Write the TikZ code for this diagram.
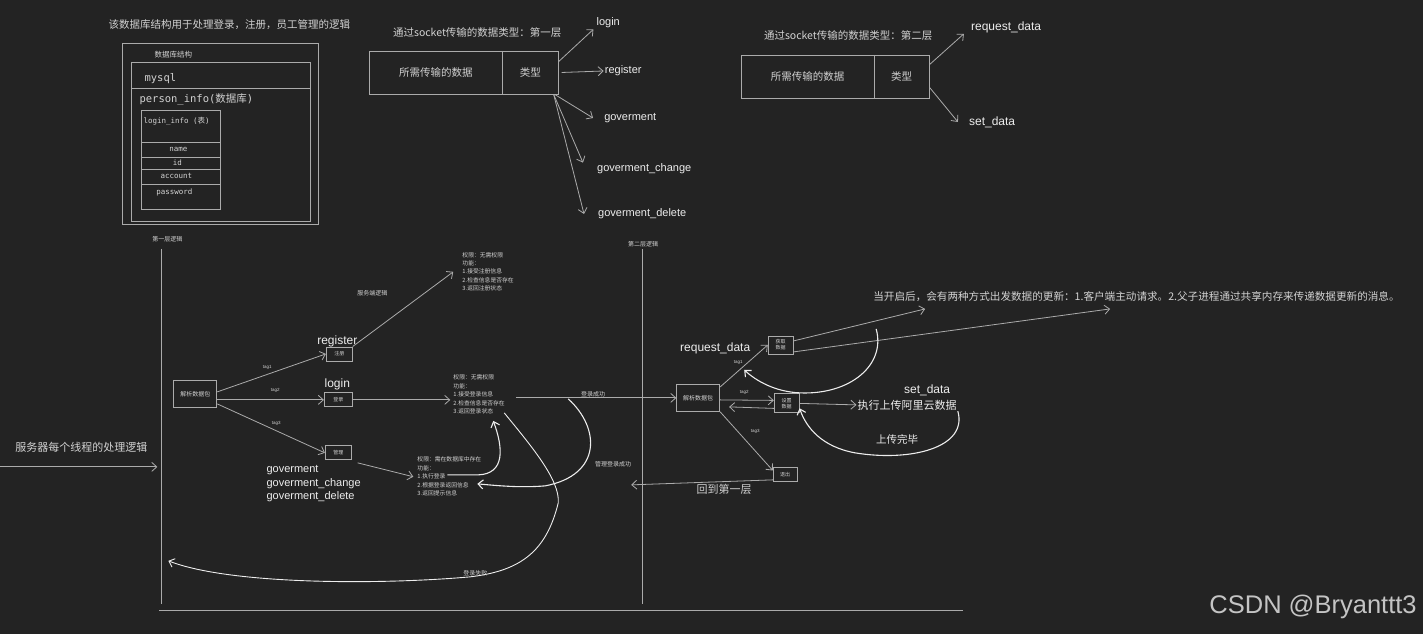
\documentclass[tikz,border=0pt]{standalone}
\usepackage{fontspec}
\setmainfont{Noto Sans CJK SC}
\newfontfamily\hand{Liberation Sans}
\newfontfamily\mono{DejaVu Sans Mono}
\usetikzlibrary{arrows.meta}
\definecolor{bg}{HTML}{232323}
\definecolor{ln}{HTML}{ABABAB}
\definecolor{txt}{HTML}{D2D2D2}
\definecolor{hw}{HTML}{EDEDED}
\definecolor{wm}{HTML}{C4C4C4}
\newcommand\fsz[2]{\fontsize{#1}{#2}\selectfont}
\begin{document}
\begin{tikzpicture}[x=1pt,y=-1pt,>={Straight Barb[length=5pt,width=9pt]},
    every node/.style={text=txt,inner sep=1pt,font={\fsz{6}{7}}},
    box/.style={draw=ln,line width=.8pt,inner sep=0pt,align=center},
    wire/.style={draw=ln,line width=.8pt},
    hand/.style={font={\hand\fsz{11}{13}},text=hw},
    tag/.style={font={\hand\fsz{4.5}{5}}},
    info/.style={anchor=north west,align=left,font={\fsz{5.8}{8.5}}},
    bold/.style={draw=hw,line width=1.1pt,->}]
    \fill[bg] (0,0) rectangle (1423,634);
    % database
    \node[font={\fsz{10.5}{12}}] (dbt) at (229,25) {该数据库结构用于处理登录，注册，员工管理的逻辑};
    \draw[wire] (122,43) rectangle (318,224);
    \node[font={\fsz{7.5}{9}}] (dbs) at (173,55) {数据库结构};
    \draw[wire] (131,62) rectangle (310,221);
    \draw[wire] (131,88) -- (310,88);
    \node[anchor=west,font={\mono\fsz{10.5}{12}}] (my) at (143,79) {mysql};
    \node[anchor=west,font={\fsz{10.5}{12}}] (pi) at (138,99) {{\mono person\_info(}数据库{\mono )}};
    \draw[wire] (141,110) rectangle (220,209);
    \foreach \y in {142,157,169,184} \draw[wire] (141,\y) -- (220,\y);
    \node[anchor=west,font={\fsz{7.5}{9}}] (li) at (142,121) {{\mono login\_info (}表{\mono )}};
    \node[font={\mono\fsz{7.5}{9}}] (nm) at (178,149) {name};
    \node[font={\mono\fsz{7.5}{9}}] (id) at (177,163) {id};
    \node[font={\mono\fsz{7.5}{9}}] (ac) at (176,176) {account};
    \node[font={\mono\fsz{7.5}{9}}] (pw) at (174,192) {password};
    % first layer types
    \node[font={\fsz{10.5}{12}}] (s1t) at (477,33) {通过socket传输的数据类型：第一层};
    \node[box,minimum width=133pt,minimum height=43pt,font={\fsz{10.5}{12}}] (s1d) at (435.5,72.5) {所需传输的数据};
    \node[box,minimum width=56pt,minimum height=43pt,font={\fsz{10.5}{12}}] (s1k) at (530,72.5) {类型};
    \node[hand] (tlogin) at (608,23) {login};
    \node[hand] (treg) at (623,71) {register};
    \node[hand] (tgov) at (630,118) {goverment};
    \node[hand] (tgc) at (644,169) {goverment\_change};
    \node[hand] (tgd) at (642,214) {goverment\_delete};
    \draw[wire,->] ([yshift=-11pt]s1k.north east) -- ([xshift=-2pt]tlogin.south west);
    \draw[wire,->] ([xshift=3pt]s1k.east) -- (treg.west);
    \draw[wire,->] ([xshift=-4pt]s1k.south east) -- ([xshift=-10pt]tgov.west);
    \draw[wire,->] ([xshift=-5pt]s1k.south east) -- ([xshift=-13pt]tgc.north west);
    \draw[wire,->] ([xshift=-5pt]s1k.south east) -- ([xshift=-13pt]tgd.west);
    % second layer types
    \node[font={\fsz{10.5}{12}}] (s2t) at (848,36) {通过socket传输的数据类型：第二层};
    \node[box,minimum width=133pt,minimum height=43pt,font={\fsz{10.5}{12}}] (s2d) at (807.5,76.5) {所需传输的数据};
    \node[box,minimum width=55pt,minimum height=43pt,font={\fsz{10.5}{12}}] (s2k) at (901.5,76.5) {类型};
    \node[hand,font={\hand\fsz{12}{14}}] (treq) at (1006,27) {request\_data};
    \node[hand,font={\hand\fsz{12}{14}}] (tset) at (992,122) {set\_data};
    \draw[wire,->] ([yshift=-10pt]s2k.north east) -- ([xshift=-6pt]treq.south west);
    \draw[wire,->] ([yshift=11pt]s2k.south east) -- ([xshift=-10pt]tset.west);
    % frame
    \node (l1) at (167,239) {第一层逻辑};
    \node (l2) at (643,244) {第二层逻辑};
    \draw[wire] (161,249) -- (161,604);
    \draw[wire] (642,249) -- (642,604);
    \draw[wire] (159,611) -- (963,611);
    \node[font={\fsz{11}{13}}] (thr) at (81,447) {服务器每个线程的处理逻辑};
    \coordinate (in0) at (0,467);
    \coordinate (in1) at (157,467);
    \draw[wire,->] (in0) -- (in1);
    % first layer logic
    \node[box,minimum width=43pt,minimum height=27pt] (pk1) at (195,394) {解析数据包};
    \node[box,minimum width=26pt,minimum height=14pt,font={\fsz{5}{6}}] (reg) at (339,354) {注册};
    \node[box,minimum width=28pt,minimum height=14pt,font={\fsz{5}{6}}] (lgn) at (338,400) {登录};
    \node[box,minimum width=26pt,minimum height=14pt,font={\fsz{5}{6}}] (gov) at (338,453) {管理};
    \node[hand,font={\hand\fsz{12}{14}}] (treg2) at (337,341) {register};
    \node[hand,font={\hand\fsz{12}{14}}] (tlgn) at (337,385) {login};
    \node[hand,anchor=west,align=left,font={\hand\fsz{11}{13.5}}] (tgovs) at (265,484) {goverment\\goverment\_change\\goverment\_delete};
    \node[tag] (g1) at (267,368) {tag1};
    \node[tag] (g2) at (275,391) {tag2};
    \node[tag] (g3) at (276,424) {tag3};
    \draw[wire,->] ([yshift=2pt]pk1.east) -- (reg.west);
    \draw[wire,->] (pk1.east |- lgn) -- (lgn.west);
    \draw[wire,->] ([yshift=-10pt]pk1.east) -- (gov.west);
    \node (srv) at (372,293) {服务端逻辑};
    \node[info] (i1) at (461,251) {权限：无需权限\\功能：\\1.接受注册信息\\2.检查信息是否存在\\3.返回注册状态};
    \node[info] (i2) at (452,374) {权限：无需权限\\功能：\\1.接受登录信息\\2.检查信息是否存在\\3.返回登录状态};
    \node[info] (i3) at (416,456) {权限：需在数据库中存在\\功能：\\1.执行登录\\2.根据登录返回信息\\3.返回提示信息};
    \draw[wire,->] (reg.north east) -- ([xshift=-8pt]i1.west);
    \draw[wire,->] (lgn.east) -- ([xshift=-2pt]lgn.east -| i2.west);
    \draw[wire,->] ([shift={(6pt,-10pt)}]gov.east) -- ([xshift=-3pt]i3.west);
    % second layer logic
    \node[box,minimum width=43pt,minimum height=27pt] (pk2) at (698,398) {解析数据包};
    \draw[wire,->] ([xshift=10pt]i2.east |- pk2.west) -- (pk2.west);
    \node (ok1) at (593,394) {登录成功};
    \node[box,minimum width=25pt,minimum height=18pt,font={\fsz{5}{6}}] (get) at (780.5,345) {获取\\数据};
    \node[box,minimum width=25pt,minimum height=19pt,font={\fsz{5}{6}}] (set) at (786.5,403.5) {设置\\数据};
    \node[box,minimum width=24pt,minimum height=14pt,font={\fsz{5}{6}}] (quit) at (785,475) {退出};
    \node[hand,font={\hand\fsz{12}{14}}] (treq2) at (715,348) {request\_data};
    \node[hand,font={\hand\fsz{12}{14}}] (tset2) at (927,390) {set\_data};
    \node[tag] (h1) at (738,363) {tag1};
    \node[tag] (h2) at (744,393) {tag2};
    \node[tag] (h3) at (755,432) {tag3};
    \draw[wire,->] ([yshift=-3pt]pk2.north east) -- (get.west);
    \draw[wire,->] ([yshift=-2pt]pk2.east) -- ([yshift=3pt]set.west);
    \draw[wire,->] ([yshift=-5pt]set.west) -- ([shift={(9pt,-9pt)}]pk2.east);
    \draw[wire,->] (pk2.south east) -- ([yshift=-3pt]quit.north west);
    \coordinate (back0) at (631,485);
    \draw[wire,->] ([yshift=-5pt]quit.west) -- (back0);
    \node[font={\fsz{11}{13}}] (back) at (724,489) {回到第一层};
    \node[anchor=west,font={\fsz{10.6}{12}}] (note) at (872,297) {当开启后，会有两种方式出发数据的更新：1.客户端主动请求。2.父子进程通过共享内存来传递数据更新的消息。};
    \coordinate (n1) at (925,309);
    \coordinate (n2) at (1110,309);
    \draw[wire,->] ([yshift=4pt]get.east) -- (n1);
    \draw[wire,->] ([yshift=-7pt]get.east) -- (n2);
    \node[font={\fsz{11}{13}},text=hw] (run) at (907,405) {执行上传阿里云数据};
    \draw[wire,->] (set.east) -- (run.west);
    \node[font={\fsz{10.5}{12}},text=hw] (done) at (897,440) {上传完毕};
    % return curves
    \coordinate (c1) at (568,399);
    \coordinate (c1e) at (477,484);
    \draw[bold] (c1) .. controls (600,428) and (602,475) .. (545,486) .. controls (520,488) and (500,486) .. (c1e);
    \node (ok2) at (613,464) {管理登录成功};
    \coordinate (c2) at (447,475);
    \coordinate (c2e) at (493,421);
    \draw[bold] (c2) -- (478,475) .. controls (505,474) and (503,448) .. (c2e);
    \coordinate (c3) at (504,413);
    \coordinate (c3e) at (168,561);
    \draw[draw=hw,line width=.9pt,->] (c3) .. controls (530,445) and (560,480) .. (558,503) .. controls (546,552) and (520,571) .. (470,577) .. controls (380,585) and (230,585) .. (c3e);
    \node (fail) at (475,573) {登录失败};
    \coordinate (d1) at (876,329);
    \coordinate (d2) at (744,370);
    \draw[bold] (d1) .. controls (886,365) and (850,395) .. (800,393) .. controls (775,392) and (756,381) .. (d2);
    \draw[bold] (run.south east) .. controls (968,448) and (910,462) .. (855,453) .. controls (822,447) and (806,428) .. ([yshift=5pt]set.south east);
    \node[font={\hand\fsz{25.5}{28}},text=wm] (mark) at (1313,607) {CSDN @Bryanttt3};
\end{tikzpicture}
\end{document}
